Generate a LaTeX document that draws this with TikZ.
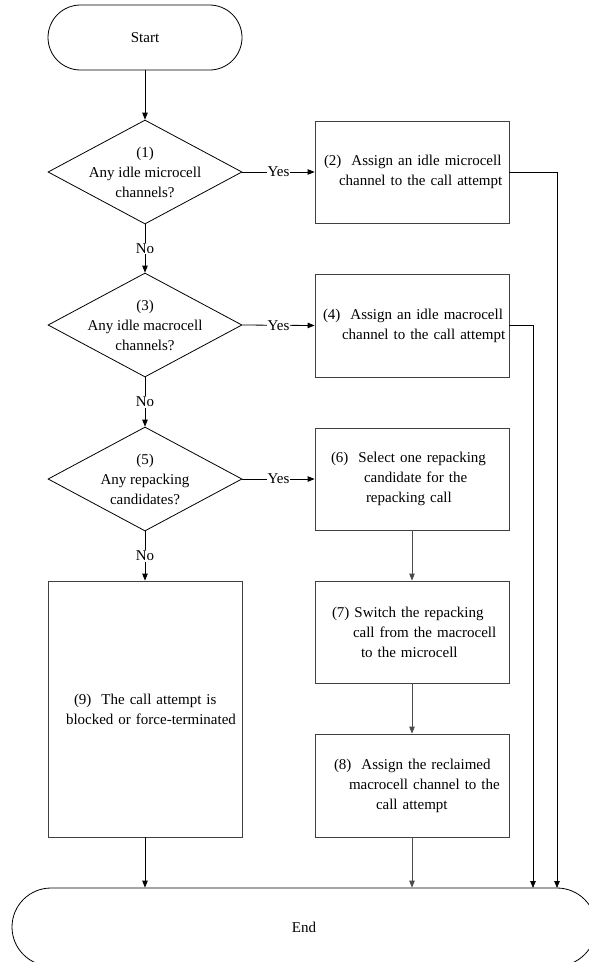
\documentclass[tikz,border=0pt]{standalone}
\usepackage{fontspec}
\setmainfont{Liberation Serif}
\usetikzlibrary{shapes.geometric,arrows.meta}
\begin{document}
\begin{tikzpicture}[x=1pt,y=1pt,
  every node/.style={font=\fontsize{15}{20}\selectfont},
  term/.style={draw=black,line width=0.8pt,rounded corners=#1,inner sep=0pt},
  dec/.style={draw=black,line width=0.8pt,shape=diamond,minimum width=194pt,minimum height=104pt,inner sep=0pt},
  proc/.style={draw=black!75,line width=0.8pt,rectangle,inner sep=0pt,text width=194pt,align=left},
  arr/.style={line width=0.8pt,-{Triangle[length=7pt,width=5.5pt]}},
  garr/.style={arr,draw=black!70},
  lab/.style={fill=white,inner sep=1pt}]
\useasboundingbox (0,0) rectangle (589,-962);
% terminals
\node[term=32.5pt,minimum width=194pt,minimum height=65pt] (start) at (145,-37.5) {Start};
\node[term=39pt,minimum width=584pt,minimum height=78pt] (end) at (304,-927) {End};
% decisions
\node[dec] (d1) at (145,-172) {};
\node[align=center] (d1t) at (d1.center) {(1)\\Any idle microcell\\channels?};
\node[dec] (d3) at (145,-325) {};
\node[align=center] (d3t) at (d3.center) {(3)\\Any idle macrocell\\channels?};
\node[dec] (d5) at (145,-479) {};
\node[align=center] (d5t) at (d5.center) {(5)\\Any repacking\\candidates?};
% processes
\node[proc,minimum height=102pt] (b2) at (412,-172)
  {\hspace*{9pt}(2)\ \ Assign an idle microcell\\\hspace*{24pt}channel to the call attempt};
\node[proc,minimum height=103pt] (b4) at (412,-325.5)
  {\hspace*{8pt}(4)\ \ Assign an idle macrocell\\\hspace*{27pt}channel to the call attempt};
\node[proc,minimum height=102pt] (b6) at (412,-479)
  {\hspace*{16pt}(6)\ \ Select one repacking\\\hspace*{49pt}candidate for the\\\hspace*{51pt}repacking call};
\node[proc,minimum height=102pt] (b7) at (412,-632)
  {\hspace*{17pt}(7) Switch the repacking\\\hspace*{38pt}call from the macrocell\\\hspace*{46pt}to the microcell};
\node[proc,minimum height=103pt] (b8) at (412,-785.5)
  {\hspace*{19pt}(8)\ \ Assign the reclaimed\\\hspace*{34pt}macrocell channel to the\\\hspace*{61pt}call attempt};
\node[proc,minimum height=256pt] (b9) at (145,-709)
  {\hspace*{26pt}(9)\ \ The call attempt is\\\hspace*{18pt}blocked or force-terminated};
% free ends on the End terminal
\coordinate (r2) at (557,-888);
\coordinate (r4) at (533,-888);
% connectors
\draw[arr] (start) -- (d1);
\draw[arr] (d1.east) -- node[lab]{Yes} (b2.west);
\draw[arr] (d3.east) -- node[lab]{Yes} (b4.west);
\draw[arr] (d5.east) -- node[lab]{Yes} (b6.west);
\draw[arr] (d1.south) -- node[lab]{No} (d3.north);
\draw[arr] (d3.south) -- node[lab]{No} (d5.north);
\draw[arr] (d5.south) -- node[lab]{No} (b9.north);
\draw[arr] (b2.east) -| (r2);
\draw[arr] (b4.east) -| (r4);
\draw[garr] (b6) -- (b7);
\draw[garr] (b7) -- (b8);
\draw[garr] (b8.south) -- (b8.south |- end.north);
\draw[arr] (b9.south) -- (b9.south |- end.north);
\end{tikzpicture}
\end{document}
